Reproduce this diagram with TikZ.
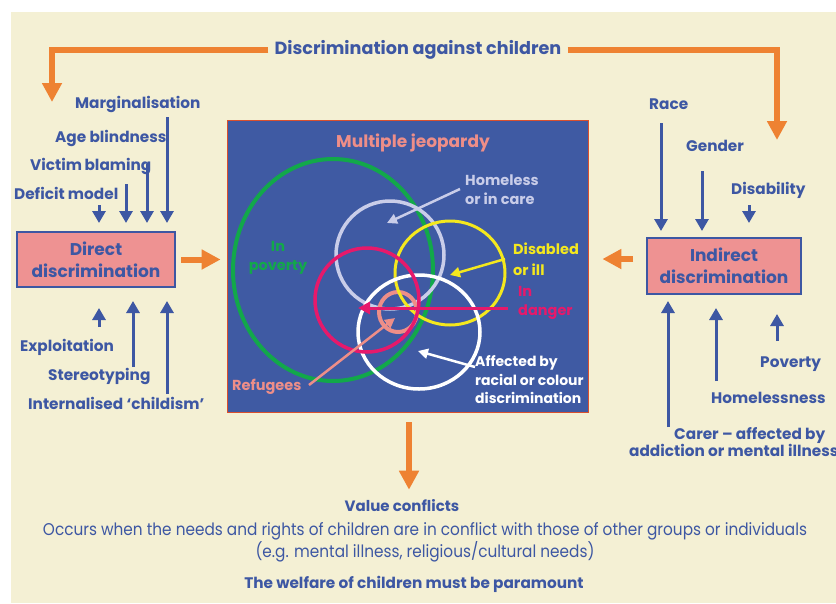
\documentclass[tikz,border=0pt]{standalone}
\usepackage{fontspec}
\setmainfont{Poppins}
\newfontfamily\condfont{Poppins}[FakeStretch=0.9]
\usetikzlibrary{arrows.meta}
\definecolor{cream}{HTML}{F4F0D4}
\definecolor{tblue}{HTML}{3D57A3}
\definecolor{org}{HTML}{EE8232}
\definecolor{pinkbox}{HTML}{EE9292}
\definecolor{panelblue}{HTML}{3F5AA3}
\definecolor{pgreen}{HTML}{12A84A}
\definecolor{plav}{HTML}{C9CDE9}
\definecolor{pyel}{HTML}{F4E81E}
\definecolor{pmag}{HTML}{E6196B}
\definecolor{psal}{HTML}{EE8E88}
\definecolor{pred}{HTML}{D9502E}
\begin{document}
\begin{tikzpicture}[x=1pt,y=-1pt,
  lbl/.style={text=tblue,font=\bfseries\fontsize{15.3}{17}\selectfont,inner sep=0pt,anchor=west},
  plbl/.style={font=\bfseries\fontsize{14.5}{19}\selectfont,inner sep=0pt,anchor=west,align=left},
  boxnode/.style={fill=pinkbox,draw=tblue,line width=2pt,align=center,text=tblue,
    font=\bfseries\fontsize{17}{22}\selectfont,inner sep=0pt},
  barrow/.style={draw=tblue,line width=3pt,-{Triangle[width=13pt,length=12pt]}},
  oarrow/.style={draw=org,line width=6pt,miter limit=10,-{Triangle[width=19pt,length=19pt]}},
  parrow/.style={line width=2.5pt,-{Triangle[width=10pt,length=10pt]}},
  ring/.style={line width=3.5pt}]
\useasboundingbox (0,0) rectangle (836,603);
\fill[cream] (11,12) rectangle (836,603);

% title and top connectors
\node[text=tblue,font=\bfseries\fontsize{17.6}{20}\selectfont,inner sep=0pt] (title) at (418,50) {Discrimination against children};
\coordinate (tlend) at (52,102);
\coordinate (trend) at (777,140);
\draw[oarrow] ([xshift=-6pt]title.west) -| (tlend);
\draw[oarrow] ([xshift=6pt]title.east) -| (trend);

% direct discrimination
\node[boxnode,minimum width=158pt,minimum height=55pt] (dd) at (96,259.5) {Direct\\discrimination};
\node[lbl] (marg) at (75,104) {Marginalisation};
\node[lbl] (age) at (55,138) {Age blindness};
\node[lbl] (vict) at (30,166) {Victim\,blaming};
\node[lbl] (defi) at (14,193) {Deficit model};
\coordinate (d1) at (99,205);
\coordinate (d2) at (126,184);
\coordinate (d3) at (147,164);
\coordinate (d4) at (167,117);
\draw[barrow,shorten >=8pt] (d1) -- (d1 |- dd.north);
\draw[barrow,shorten >=8pt] (d2) -- (d2 |- dd.north);
\draw[barrow,shorten >=8pt] (d3) -- (d3 |- dd.north);
\draw[barrow,shorten >=8pt] (d4) -- (d4 |- dd.north);
\node[lbl] (expl) at (20,347) {Exploitation};
\node[lbl] (ster) at (48,376) {Stereotyping};
\node[lbl] (intl) at (28,403) {Internalised ‘childism’};
\coordinate (u1) at (99,327);
\coordinate (u2) at (133,367);
\coordinate (u3) at (167,394);
\draw[barrow,shorten >=20pt] (u1) -- (u1 |- dd.south);
\draw[barrow,shorten >=13pt] (u2) -- (u2 |- dd.south);
\draw[barrow,shorten >=13pt] (u3) -- (u3 |- dd.south);

% panel
\node[draw=pred,fill=panelblue,line width=0.8pt,minimum width=361pt,minimum height=292pt,inner sep=0pt] (panel) at (407.5,266) {};
\draw[oarrow] ([xshift=5pt]dd.east) -- ([xshift=-6pt]panel.west |- dd.east);

\node[text=psal,font=\bfseries\fontsize{17}{19}\selectfont,inner sep=0pt] (mj) at (413,143) {Multiple jeopardy};
\draw[ring,pgreen,line width=4pt] (333,270) ellipse [x radius=100pt,y radius=111pt];
\draw[ring,plav] (390,255) circle [radius=54pt];
\draw[ring,psal,line width=4pt] (398,312) ellipse [x radius=19pt,y radius=20pt];
\draw[ring,pyel,line width=3pt] (450,273) ellipse [x radius=55pt,y radius=52pt];
\draw[ring,white] (419,332) ellipse [x radius=61pt,y radius=57pt];
\draw[ring,pmag] (367,300) circle [radius=52pt];

\node[plbl,text=pgreen,align=center,anchor=center] (pov) at (278,258) {In\\poverty};
\node[plbl,text=plav] (home) at (465,190) {Homeless\\or in care};
\node[plbl,text=pyel,font=\bfseries\fontsize{14.5}{21}\selectfont] (dis) at (513,259.5) {Disabled\\or ill};
\node[plbl,text=pmag] (dang) at (518,303) {In\\danger};
\node[plbl,text=white,font=\bfseries\fontsize{14}{18.5}\selectfont] (aff) at (475,380) {Affected by\\racial or colour\\discrimination};
\node[plbl,text=psal] (ref) at (232,387) {Refugees};

\coordinate (hs) at (460,189); \coordinate (he) at (387,223);
\draw[parrow,plav] (hs) -- (he);
\coordinate (ys) at (505,259); \coordinate (ye) at (450,275);
\draw[parrow,pyel] (ys) -- (ye);
\coordinate (ms) at (508,308); \coordinate (me) at (358,308);
\draw[parrow,pmag,line width=3pt,-{Triangle[width=12pt,length=12pt]}] (ms) -- (me);
\coordinate (rs) at (309,385); \coordinate (re) at (395,318);
\draw[parrow,psal] (rs) -- (re);
\coordinate (ws) at (475,367); \coordinate (we) at (418,351);
\draw[parrow,white] (ws) -- (we);

% indirect discrimination
\node[boxnode,minimum width=154pt,minimum height=56pt] (id) at (724,266) {Indirect\\discrimination};
\coordinate (io) at (633,259);
\draw[oarrow] (io) -- ([xshift=14pt]panel.east |- io);
\node[lbl] (race) at (649,104) {Race};
\node[lbl] (gend) at (686,146) {Gender};
\node[lbl] (disa) at (731,190) {Disability};
\coordinate (r1) at (661,123);
\coordinate (r2) at (702,171);
\coordinate (r3) at (749,205);
\draw[barrow,shorten >=6pt] (r1) -- (r1 |- id.north);
\draw[barrow,shorten >=6pt] (r2) -- (r2 |- id.north);
\draw[barrow,shorten >=14pt] (r3) -- (r3 |- id.north);
\node[lbl] (povr) at (760,364) {Poverty};
\node[lbl] (homl) at (711,398) {Homelessness};
\node[lbl,align=left] (carer) at (629,442) {\hspace*{45pt}Carer – affected by\\addiction or mental illness};
\coordinate (b1) at (668,427);
\coordinate (b2) at (716,381);
\coordinate (b3) at (777,341);
\draw[barrow,shorten >=6pt] (b1) -- (b1 |- id.south);
\draw[barrow,shorten >=13pt] (b2) -- (b2 |- id.south);
\draw[barrow,shorten >=19pt] (b3) -- (b3 |- id.south);

% bottom
\node[text=tblue,font=\bfseries\fontsize{15}{17}\selectfont,inner sep=0pt] (vc) at (402,506) {Value conflicts};
\draw[oarrow] ([yshift=-10pt]panel.south -| 409,0) -- ([yshift=10pt]vc.north -| 409,0);
\node[text=tblue,font=\condfont\fontsize{17}{20}\selectfont,inner sep=0pt,align=center] (occ) at (425,542) {Occurs when the needs and rights of children are in conflict with those of other groups or individuals\\(e.g. mental illness, religious/cultural needs)};
\node[text=tblue,font=\bfseries\fontsize{15.3}{17}\selectfont,inner sep=0pt] (welf) at (414,584) {The welfare of children must be paramount};
\end{tikzpicture}
\end{document}
